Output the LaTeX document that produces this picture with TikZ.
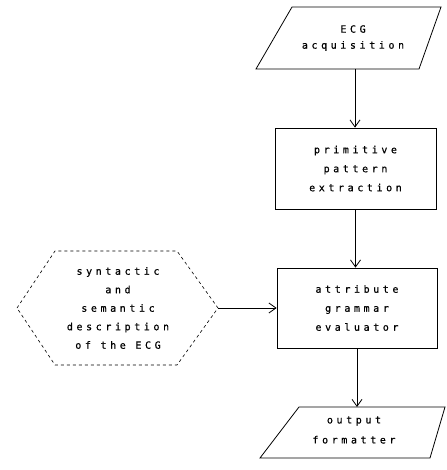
\documentclass[tikz,border=0pt]{standalone}
\usepackage{fontspec}
\usetikzlibrary{arrows.meta}
\newfontfamily\plotfont[LetterSpace=36,FakeBold=0.6]{DejaVu Sans Mono}
\tikzset{
  block/.style={draw, line width=.8pt, minimum width=160pt, minimum height=80pt,
    inner sep=0pt, align=center, font=\plotfont\fontsize{10}{19}\selectfont},
  txt/.style={align=center, inner sep=0pt, font=\plotfont\fontsize{10}{18.5}\selectfont}
}
\begin{document}
\begin{tikzpicture}[x=1pt, y=-1pt, line width=.8pt, >={Straight Barb[length=7pt,width=10pt]}]
  \useasboundingbox (0,0) rectangle (446,470);

  %% input / output
  \draw (256,69) -- (292,7) -- (441,7) -- (419,69) -- cycle;
  \coordinate (acqS) at (355,69);
  \node[txt, font=\plotfont\fontsize{10}{16}\selectfont] (acq) at (353,38) {ECG\\acquisition};
  \draw (260,458) -- (299,407) -- (445,407) -- (430,458) -- cycle;
  \coordinate (outN) at (357,407);
  \node[txt, font=\plotfont\fontsize{10}{20}\selectfont] (out) at (354,430) {output\\formatter};

  \node[block, minimum width=161pt, minimum height=81pt] (prim) at (355.5,168.5)
    {primitive\\pattern\\extraction};
  \node[block] (attr) at (357,308) {attribute\\grammar\\evaluator};

  %% description
  \draw[dashed, line width=.6pt] (17,308) -- (55,251) -- (177,251) -- (218,308)
    coordinate (hexE) -- (177,365) -- (55,365) -- cycle;
  \node[txt] (desc) at (118,308) {syntactic\\and\\semantic\\description\\of the ECG};

  \draw[->] (acqS) -- (acqS |- prim.north);
  \draw[->] (prim.south) -- (prim.south |- attr.north);
  \draw[->] (hexE) -- (attr.west);
  \draw[->] (attr.south) -- (attr.south |- outN);
\end{tikzpicture}
\end{document}
